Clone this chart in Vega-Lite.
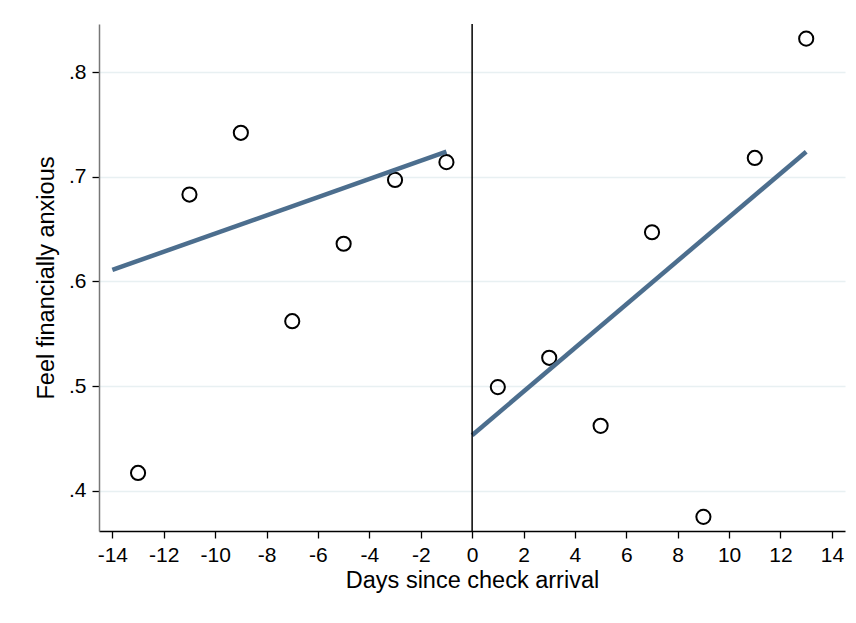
{
  "$schema": "https://vega.github.io/schema/vega-lite/v6.json",
  "width": 746,
  "height": 507,
  "autosize": {"type": "none"},
  "padding": {"left": 99, "top": 24, "right": 11, "bottom": 92},
  "background": "white",
  "config": {
    "view": {"stroke": null},
    "font": "Liberation Sans",
    "axis": {"labelFont": "Liberation Sans", "titleFont": "Liberation Sans", "labelFontSize": 21, "titleFontSize": 23.5, "titleFontWeight": "normal", "labelColor": "black", "titleColor": "black", "tickColor": "black", "tickSize": 7, "tickWidth": 1.3, "gridColor": "#e8f0f2", "gridWidth": 1.5}
  },
  "datasets": {
    "pts": [
      {"day": -13, "anx": 0.417},
      {"day": -11, "anx": 0.683},
      {"day": -9, "anx": 0.742},
      {"day": -7, "anx": 0.562},
      {"day": -5, "anx": 0.636},
      {"day": -3, "anx": 0.697},
      {"day": -1, "anx": 0.714},
      {"day": 1, "anx": 0.499},
      {"day": 3, "anx": 0.527},
      {"day": 5, "anx": 0.462},
      {"day": 7, "anx": 0.647},
      {"day": 9, "anx": 0.375},
      {"day": 11, "anx": 0.718},
      {"day": 13, "anx": 0.832}
    ],
    "fit": [
      {"day": -14, "fit": 0.611, "side": "pre"},
      {"day": -1, "fit": 0.724, "side": "pre"},
      {"day": 0, "fit": 0.453, "side": "post"},
      {"day": 13, "fit": 0.724, "side": "post"}
    ],
    "vline": [{"day": 0}]
  },
  "layer": [
    {
      "data": {"name": "pts"},
      "mark": {"type": "point", "shape": "circle", "filled": false, "stroke": "black", "strokeWidth": 2, "size": 200, "opacity": 1},
      "encoding": {
        "x": {"field": "day", "type": "quantitative", "scale": {"domain": [-14.52, 14.51], "nice": false, "zero": false},
          "axis": {"values": [-14,-12,-10,-8,-6,-4,-2,0,2,4,6,8,10,12,14], "labelExpr": "'' + datum.value", "title": "Days since check arrival", "grid": false, "domainColor": "black", "domainWidth": 1.5, "labelPadding": 6, "titlePadding": 3}},
        "y": {"field": "anx", "type": "quantitative", "scale": {"domain": [0.3615, 0.846], "nice": false, "zero": false},
          "axis": {"values": [0.4, 0.5, 0.6, 0.7, 0.8], "labelExpr": "replace(format(datum.value, '.1f'), '0.', '.')", "title": "Feel financially anxious", "grid": true, "domainColor": "#777777", "domainWidth": 1.5, "labelPadding": 6, "titlePadding": 10}}
      }
    },
    {
      "data": {"name": "fit"},
      "mark": {"type": "line", "color": "#4c6e8e", "strokeWidth": 4.5},
      "encoding": {
        "x": {"field": "day", "type": "quantitative"},
        "y": {"field": "fit", "type": "quantitative"},
        "detail": {"field": "side"}
      }
    },
    {
      "data": {"name": "vline"},
      "mark": {"type": "rule", "color": "black", "strokeWidth": 1.5},
      "encoding": {"x": {"field": "day", "type": "quantitative"}}
    }
  ]
}
